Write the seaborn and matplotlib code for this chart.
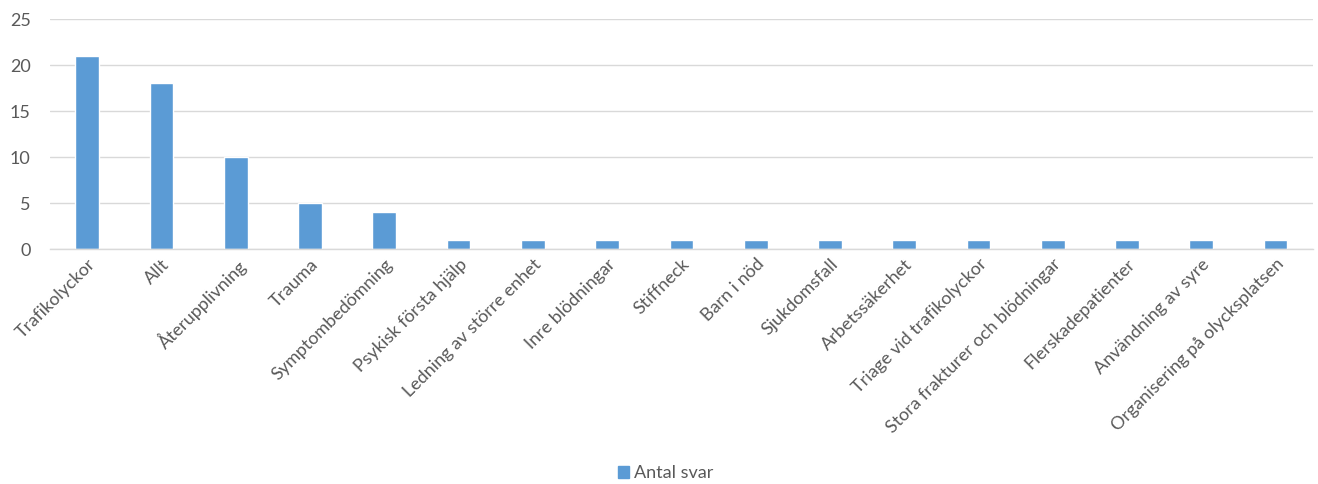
import pandas as pd
import seaborn as sns
import matplotlib.pyplot as plt

# Data
categories = [
    "Trafikolyckor", "Allt", "Återupplivning", "Trauma", "Symptombedömning",
    "Psykisk första hjälp", "Ledning av större enhet", "Inre blödningar",
    "Stiffneck", "Barn i nöd", "Sjukdomsfall", "Arbetssäkerhet",
    "Triage vid trafikolyckor", "Stora frakturer och blödningar",
    "Flerskadepatienter", "Användning av syre", "Organisering på olycksplatsen",
]
antal_svar = [21, 18, 10, 5, 4, 1, 1, 1, 1, 1, 1, 1, 1, 1, 1, 1, 1]
y_ticks = [0, 5, 10, 15, 20, 25]

df = pd.DataFrame({"Kategori": categories, "Antal svar": antal_svar})

sns.set_theme(style="white")
plt.rcParams["font.family"] = ["Lato", "DejaVu Sans"]

bar_color = "#5B9BD5"
text_color = "#595959"

fig = plt.figure(figsize=(13.18, 4.84), dpi=100)
ax = fig.add_axes([0.038, 0.4855, 0.958, 0.4752])

sns.barplot(data=df, x="Kategori", y="Antal svar", color=bar_color,
            width=0.32, saturation=1, ax=ax)

ax.set_ylim(0, 25)
ax.set_xlim(-0.5, len(categories) - 0.5)
ax.set_yticks(y_ticks)
ax.yaxis.grid(True, color="#D9D9D9", linewidth=1)
ax.set_axisbelow(True)
for side in ["top", "right", "left"]:
    ax.spines[side].set_visible(False)
ax.spines["bottom"].set_color("#D9D9D9")
ax.spines["bottom"].set_linewidth(1)

ax.set_xlabel("")
ax.set_ylabel("")
ax.tick_params(axis="both", length=0, colors=text_color, labelsize=13)
ax.tick_params(axis="y", pad=14)
plt.setp(ax.get_xticklabels(), rotation=45, ha="right",
         rotation_mode="anchor", va="top")
ax.tick_params(axis="x", pad=5)

handle = plt.Rectangle((0, 0), 1, 1, color=bar_color)
fig.legend([handle], ["Antal svar"], loc="lower center",
           bbox_to_anchor=(0.505, -0.028), frameon=False, fontsize=13,
           handlelength=0.6, handleheight=0.6, handletextpad=0.3,
           labelcolor=text_color)

fig.savefig("out.png", dpi=100)
